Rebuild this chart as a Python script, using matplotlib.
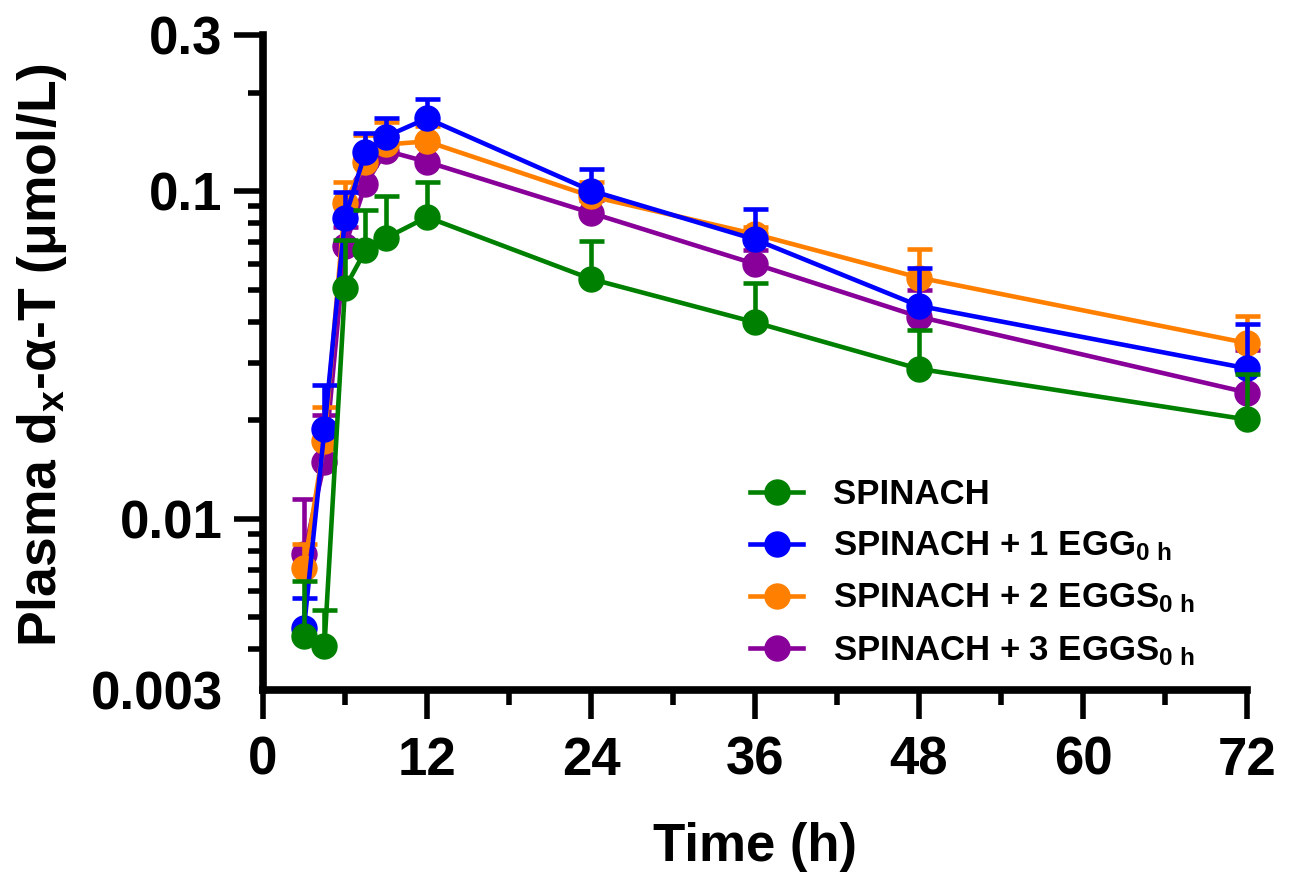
import numpy as np
import matplotlib
matplotlib.use("Agg")
import matplotlib.pyplot as plt
from matplotlib.ticker import FixedLocator, FixedFormatter, NullFormatter

plt.rcParams['font.family'] = ['Liberation Sans', 'DejaVu Sans']
plt.rcParams['font.weight'] = 'bold'
plt.rcParams['mathtext.fontset'] = 'custom'
plt.rcParams['mathtext.rm'] = 'Liberation Sans:bold'
plt.rcParams['mathtext.bf'] = 'Liberation Sans:bold'
plt.rcParams['mathtext.it'] = 'Liberation Sans:bold'

# sampling times (h)
times = [3, 4.5, 6, 7.5, 9, 12, 24, 36, 48, 72]

# mean and mean+SD (upper end of error bar), umol/L
spinach = [0.0044, 0.0041, 0.0507, 0.066, 0.072, 0.0834, 0.054, 0.0398, 0.0287, 0.0201]
spinach_up = [0.00646, 0.00528, 0.071, 0.0878, 0.097, 0.107, 0.0705, 0.0523, 0.0378, 0.0276]

egg1 = [0.00464, 0.0188, 0.0828, 0.132, 0.147, 0.167, 0.1005, 0.0713, 0.0447, 0.0288]
egg1_up = [0.00575, 0.0257, 0.0993, 0.151, 0.167, 0.192, 0.117, 0.0884, 0.0585, 0.0394]

egg2 = [0.00706, 0.01726, 0.092, 0.123, 0.139, 0.142, 0.0966, 0.074, 0.0545, 0.0344]
egg2_up = [0.00837, 0.022, 0.107, 0.149, 0.163, 0.158, 0.107, 0.078, 0.0665, 0.0417]

egg3 = [0.00778, 0.0149, 0.068, 0.105, 0.133, 0.123, 0.0859, 0.060, 0.0414, 0.0243]
egg3_up = [0.01146, 0.0207, 0.078, 0.12, 0.148, 0.138, 0.094, 0.066, 0.050, 0.0327]

labels = ['SPINACH',
          'SPINACH + 1 EGG$_{\\mathbf{0\\ h}}$',
          'SPINACH + 2 EGGS$_{\\mathbf{0\\ h}}$',
          'SPINACH + 3 EGGS$_{\\mathbf{0\\ h}}$']
colors = ['#008000', '#0000FF', '#FF8000', '#880099']
means = [spinach, egg1, egg2, egg3]
ups = [spinach_up, egg1_up, egg2_up, egg3_up]
zorders = [6, 5, 4, 3]

yticks = [0.003, 0.01, 0.1, 0.3]
yticklabels = ['0.003', '0.01', '0.1', '0.3']
xticks = [0, 12, 24, 36, 48, 60, 72]

fig = plt.figure(figsize=(12.91, 8.85), dpi=100)
ax = fig.add_axes([0.2037, 0.2203, 0.7622, 0.7401])

handles = []
for m, up, c, z in zip(means, ups, colors, zorders):
    m = np.array(m)
    up = np.array(up)
    cont = ax.errorbar(times, m, yerr=[np.zeros_like(m), up - m], color=c,
                       marker='o', ms=18, lw=3.3, elinewidth=3.3, capsize=9,
                       capthick=3.3, clip_on=False, zorder=z)
    cont[1][0].set_visible(False)
    for cl in cont[1]:
        cl.set_clip_on(False)
    for bc in cont[2]:
        bc.set_clip_on(False)
    handles.append(cont[0])

ax.set_yscale('log')
ax.set_ylim(0.003, 0.3)
ax.set_xlim(0, 72)

ax.yaxis.set_major_locator(FixedLocator(yticks))
ax.yaxis.set_major_formatter(FixedFormatter(yticklabels))
minor = [k * 0.001 for k in range(4, 10)] + [k * 0.01 for k in range(2, 10)] + [0.2]
ax.yaxis.set_minor_locator(FixedLocator(minor))
ax.yaxis.set_minor_formatter(NullFormatter())

ax.set_xticks(xticks)
ax.set_xticks([6, 18, 30, 42, 54, 66], minor=True)

for s in ['top', 'right']:
    ax.spines[s].set_visible(False)
for s in ['left', 'bottom']:
    ax.spines[s].set_linewidth(5.5)

ax.tick_params(which='major', length=21, width=4, labelsize=38, direction='out')
ax.tick_params(which='minor', length=11, width=4, direction='out')
ax.tick_params(axis='x', which='major', pad=12)
ax.tick_params(axis='y', which='major', pad=8)
ax.yaxis.get_major_ticks()[0].tick1line.set_visible(False)

ax.set_xlabel('Time (h)', fontsize=38, fontweight='bold', labelpad=26)
ax.set_ylabel('Plasma d$_{\\mathbf{x}}$-\u03b1-T (\u03bcmol/L)', fontsize=38.5,
              fontweight='bold', labelpad=18)
ax.yaxis.set_label_coords(-0.197, 0.512)

ax.legend(handles=handles, labels=labels, loc='upper left',
          bbox_to_anchor=(0.581, 0.4596), bbox_transform=fig.transFigure,
          frameon=False, fontsize=25, handlelength=1.53, handletextpad=0.86,
          labelspacing=0.53, borderpad=0, borderaxespad=0)

fig.savefig('out.png', dpi=100)
